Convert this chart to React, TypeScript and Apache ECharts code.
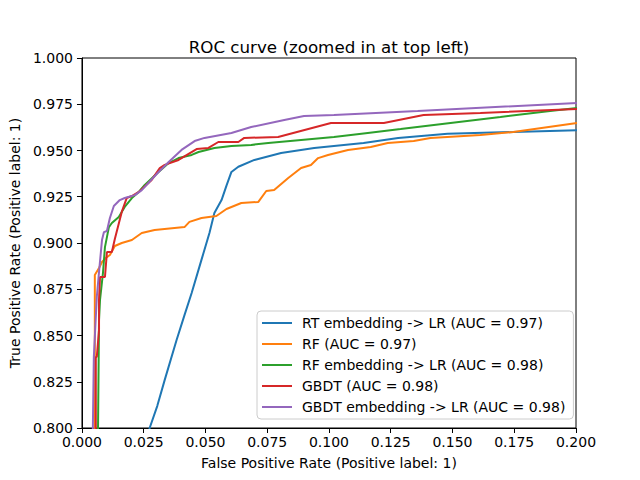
import React, { useEffect, useRef } from "react";
import * as echarts from "echarts";

const TITLE = "ROC curve (zoomed in at top left)";
const X_LABEL = "False Positive Rate (Positive label: 1)";
const Y_LABEL = "True Positive Rate (Positive label: 1)";

const seriesNames = [
  "RT embedding -> LR (AUC = 0.97)",
  "RF (AUC = 0.97)",
  "RF embedding -> LR (AUC = 0.98)",
  "GBDT (AUC = 0.98)",
  "GBDT embedding -> LR (AUC = 0.98)",
];
const colors = ["#1f77b4", "#ff7f0e", "#2ca02c", "#d62728", "#9467bd"];

// [fpr, tpr]
const rtLr: [number, number][] = [
  [0.0262, 0.79], [0.0274, 0.8], [0.0305, 0.812], [0.0335, 0.826], [0.0383, 0.8476],
  [0.0415, 0.861], [0.0444, 0.873], [0.0484, 0.891], [0.0516, 0.9054], [0.0536, 0.9162],
  [0.0565, 0.9232], [0.0585, 0.931], [0.0605, 0.9384], [0.0633, 0.9412], [0.0698, 0.9449],
  [0.0806, 0.9486], [0.094, 0.9514], [0.114, 0.954], [0.128, 0.9568], [0.148, 0.959],
  [0.1746, 0.96], [0.2004, 0.961],
];
const rf: [number, number][] = [
  [0.0052, 0.79], [0.0052, 0.8827], [0.0069, 0.8865], [0.0081, 0.8897], [0.0101, 0.8924],
  [0.0113, 0.8935], [0.0133, 0.8984], [0.0161, 0.9], [0.0202, 0.9016], [0.0242, 0.9054],
  [0.0294, 0.907], [0.0415, 0.9086], [0.0435, 0.9114], [0.0484, 0.9135], [0.0544, 0.9146],
  [0.0585, 0.9184], [0.0645, 0.9216], [0.0714, 0.9222], [0.0746, 0.9281], [0.0778, 0.9286],
  [0.0835, 0.9351], [0.0887, 0.9405], [0.0927, 0.9422], [0.0956, 0.9459], [0.0996, 0.9476],
  [0.1077, 0.9503], [0.1169, 0.9519], [0.1238, 0.9541], [0.1343, 0.9551], [0.1411, 0.9568],
  [0.1613, 0.9584], [0.1746, 0.96], [0.2004, 0.9649],
];
const rfLr: [number, number][] = [
  [0.0064, 0.79], [0.0065, 0.8], [0.0069, 0.8584], [0.0073, 0.8692], [0.0085, 0.8838],
  [0.0093, 0.8978], [0.0109, 0.9086], [0.0121, 0.9108], [0.0149, 0.9141], [0.0173, 0.9195],
  [0.0202, 0.9243], [0.023, 0.9276], [0.0254, 0.9314], [0.031, 0.9384], [0.0351, 0.9432],
  [0.0391, 0.9459], [0.0444, 0.9476], [0.0472, 0.9492], [0.0536, 0.9514], [0.0605, 0.9524],
  [0.0685, 0.953], [0.0754, 0.9541], [0.0887, 0.9557], [0.102, 0.9573], [0.1157, 0.9595],
  [0.129, 0.9616], [0.1492, 0.9649], [0.1694, 0.9681], [0.1895, 0.9714], [0.2004, 0.973],
];
const gbdt: [number, number][] = [
  [0.0056, 0.79], [0.0056, 0.8384], [0.006, 0.8384], [0.0069, 0.853], [0.0069, 0.8692],
  [0.0073, 0.8816], [0.0093, 0.8816], [0.0101, 0.8951], [0.0121, 0.8951], [0.0133, 0.9022],
  [0.0161, 0.9168], [0.0181, 0.9243], [0.0202, 0.9254], [0.023, 0.9276], [0.0282, 0.9341],
  [0.0315, 0.9405], [0.0335, 0.9422], [0.0391, 0.9449], [0.0464, 0.9508], [0.0512, 0.9514],
  [0.0552, 0.9546], [0.0633, 0.9546], [0.0657, 0.9568], [0.0794, 0.9573], [0.1008, 0.9649],
  [0.1222, 0.9649], [0.1383, 0.9692], [0.1613, 0.9703], [0.2004, 0.9724],
];
const gbdtLr: [number, number][] = [
  [0.0044, 0.79], [0.0044, 0.8], [0.0048, 0.8384], [0.006, 0.8708], [0.0069, 0.8843],
  [0.0081, 0.9016], [0.0089, 0.9059], [0.0101, 0.9065], [0.0113, 0.9135], [0.0129, 0.92],
  [0.0153, 0.9232], [0.0173, 0.9243], [0.0214, 0.9259], [0.0242, 0.9286], [0.031, 0.9384],
  [0.0351, 0.9438], [0.0403, 0.9503], [0.0456, 0.9551], [0.0496, 0.9568], [0.0605, 0.9595],
  [0.0685, 0.9627], [0.0819, 0.9665], [0.0899, 0.9686], [0.102, 0.9692], [0.1359, 0.9714],
  [0.2004, 0.9757],
];
const allData = [rtLr, rf, rfLr, gbdt, gbdtLr];

const FONT = "DejaVu Sans";

export default function App() {
  const ref = useRef<HTMLDivElement>(null);
  useEffect(() => {
    if (!ref.current) return;
    const chart = echarts.init(ref.current, undefined, { renderer: "svg" });
    chart.setOption({
      animation: false,
      backgroundColor: "#ffffff",
      textStyle: { fontFamily: FONT },
      title: {
        text: TITLE,
        left: 324,
        top: 33,
        textAlign: "center",
        textStyle: { fontFamily: FONT, fontSize: 16.7, fontWeight: "normal", color: "#000" },
      },
      grid: {
        left: 80,
        top: 58,
        width: 496,
        height: 370,
        show: true,
        borderColor: "#000",
        borderWidth: 1,
        backgroundColor: "transparent",
      },
      xAxis: {
        type: "value",
        min: 0,
        max: 0.2,
        interval: 0.025,
        name: X_LABEL,
        nameLocation: "middle",
        nameGap: 28,
        nameTextStyle: { fontFamily: FONT, fontSize: 14, color: "#000" },
        axisLine: { show: true, lineStyle: { color: "#000", width: 1 } },
        axisTick: { show: true, length: 5, lineStyle: { color: "#000" } },
        axisLabel: {
          fontFamily: FONT,
          fontSize: 14,
          color: "#000",
          margin: 7,
          formatter: (v: number) => v.toFixed(3),
        },
        splitLine: { show: false },
      },
      yAxis: {
        type: "value",
        min: 0.8,
        max: 1.0,
        interval: 0.025,
        name: Y_LABEL,
        nameLocation: "middle",
        nameGap: 55,
        nameTextStyle: { fontFamily: FONT, fontSize: 14, color: "#000" },
        axisLine: { show: true, lineStyle: { color: "#000", width: 1 } },
        axisTick: { show: true, length: 5, lineStyle: { color: "#000" } },
        axisLabel: {
          fontFamily: FONT,
          fontSize: 14,
          color: "#000",
          margin: 9,
          formatter: (v: number) => v.toFixed(3),
        },
        splitLine: { show: false },
      },
      legend: {
        orient: "vertical",
        left: 257,
        top: 311,
        width: 313,
        padding: [5, 8, 5, 5],
        itemGap: 7,
        itemWidth: 30,
        itemHeight: 2,
        icon: "rect",
        borderColor: "#cccccc",
        borderWidth: 1,
        borderRadius: 4,
        backgroundColor: "rgba(255,255,255,0.8)",
        textStyle: { fontFamily: FONT, fontSize: 14, color: "#000", padding: [0, 0, 0, 5] },
        data: seriesNames,
      },
      series: allData.map((d, i) => ({
        name: seriesNames[i],
        type: "line",
        data: d,
        showSymbol: false,
        symbol: "none",
        clip: true,
        color: colors[i],
        lineStyle: { width: 2, color: colors[i] },
        z: 2 + i,
      })),
    });
    return () => chart.dispose();
  }, []);
  return (
    <div
      ref={ref}
      style={{ position: "absolute", left: 0, top: 0, width: 640, height: 480 }}
    />
  );
}
